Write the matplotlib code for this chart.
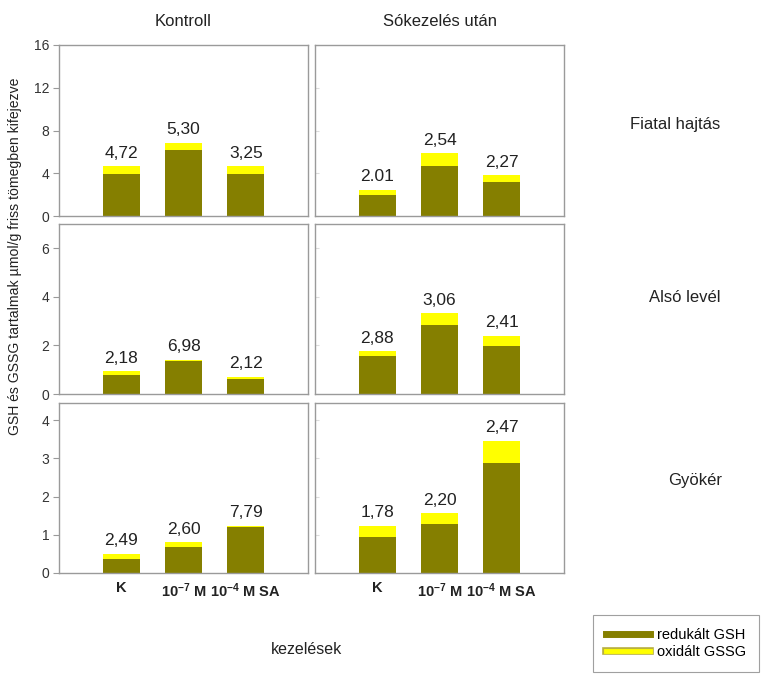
import matplotlib
matplotlib.use("Agg")
import matplotlib.pyplot as plt
import matplotlib.patheffects as pe
from matplotlib.lines import Line2D

plt.rcParams['font.family'] = ['Liberation Sans', 'DejaVu Sans']
plt.rcParams['mathtext.fontset'] = 'custom'
plt.rcParams['mathtext.rm'] = 'Liberation Sans:bold'
plt.rcParams['mathtext.default'] = 'rm'

treatments = ['K', '10$^{-7}$ M', '10$^{-4}$ M SA']
organs = ['Fiatal hajtás', 'Alsó levél', 'Gyökér']
conditions = ['Kontroll', 'Sókezelés után']

# reduced GSH and oxidised GSSG per organ row, one list per treatment
gsh_ctrl = [[3.90, 6.20, 3.96], [0.79, 1.35, 0.63], [0.375, 0.68, 1.20]]
gssg_ctrl = [[0.75, 0.66, 0.69], [0.14, 0.07, 0.09], [0.135, 0.13, 0.04]]
gsh_salt = [[1.98, 4.72, 3.14], [1.55, 2.83, 1.97], [0.94, 1.29, 2.89]]
gssg_salt = [[0.47, 1.13, 0.66], [0.21, 0.50, 0.42], [0.30, 0.27, 0.57]]

# GSH/GSSG ratios printed above the bars
ratio_ctrl = [['4,72', '5,30', '3,25'], ['2,18', '6,98', '2,12'], ['2,49', '2,60', '7,79']]
ratio_salt = [['2.01', '2,54', '2,27'], ['2,88', '3,06', '2,41'], ['1,78', '2,20', '2,47']]

ylims = [16, 7, 4.45]
yticks = [[0, 4, 8, 12, 16], [0, 2, 4, 6], [0, 1, 2, 3, 4]]

olive = '#857f00'
yellow = '#ffff00'
frame = '#9a9a9a'
txt = '#222222'

W, H = 765, 676
fig = plt.figure(figsize=(W / 100, H / 100), dpi=100)

col_x = [59, 315]
col_w = 249
row_y = [(45, 216), (224, 394), (403, 573)]

data = [(gsh_ctrl, gssg_ctrl, ratio_ctrl), (gsh_salt, gssg_salt, ratio_salt)]
x = [0, 1, 2]

for c in range(2):
    gsh, gssg, ratio = data[c]
    for r in range(3):
        top, bottom = row_y[r]
        ax = fig.add_axes([col_x[c] / W, 1 - bottom / H, col_w / W, (bottom - top) / H])
        ax.bar(x, gsh[r], width=0.6, color=olive, edgecolor='none')
        ax.bar(x, gssg[r], width=0.6, bottom=gsh[r], color=yellow, edgecolor='none')
        for i in x:
            total = gsh[r][i] + gssg[r][i]
            ax.annotate(ratio[r][i], (i, total), xytext=(0, 4), textcoords='offset points',
                        ha='center', va='bottom', fontsize=12.5, color=txt)
        ax.set_xlim(-1, 3)
        ax.set_ylim(0, ylims[r])
        ax.set_yticks(yticks[r])
        for s in ax.spines.values():
            s.set_color(frame)
            s.set_linewidth(1.0)
        if c == 0:
            ax.tick_params(axis='y', direction='out', length=4, color=frame,
                           labelsize=10, labelcolor='#333333', pad=3)
        else:
            ax.tick_params(axis='y', direction='in', length=3, color='#dddddd', labelleft=False)
        if r == 2:
            ax.set_xticks(x)
            ax.set_xticklabels(treatments, fontsize=10.5, fontweight='bold', color=txt)
            ax.tick_params(axis='x', length=0, pad=6)
        else:
            ax.set_xticks([])

# column and row headings
fig.text(183 / W, 1 - 22 / H, conditions[0], ha='center', va='center', fontsize=12, color=txt)
fig.text(440 / W, 1 - 22 / H, conditions[1], ha='center', va='center', fontsize=12, color=txt)
fig.text(675 / W, 1 - 125 / H, organs[0], ha='center', va='center', fontsize=12, color=txt)
fig.text(685 / W, 1 - 298 / H, organs[1], ha='center', va='center', fontsize=12, color=txt)
fig.text(695 / W, 1 - 480 / H, organs[2], ha='center', va='center', fontsize=12, color=txt)

fig.text(15 / W, 1 - 256 / H, 'GSH és GSSG tartalmak µmol/g friss tömegben kifejezve',
         rotation=90, ha='center', va='center', fontsize=10.1, color=txt)
fig.text(307 / W, 1 - 650 / H, 'kezelések', ha='center', va='center', fontsize=11.5, color=txt)

handles = [
    Line2D([], [], color=olive, lw=5),
    Line2D([], [], color=yellow, lw=3.5,
           path_effects=[pe.Stroke(linewidth=5.5, foreground='#b8b040'), pe.Normal()]),
]
leg = fig.legend(handles, ['redukált GSH', 'oxidált GSSG'], loc='upper left',
                 bbox_to_anchor=(593 / W, 1 - 615 / H), fontsize=10.5, frameon=True,
                 fancybox=False, edgecolor='#888888', handlelength=3.0,
                 handletextpad=0.5, labelspacing=0.2, borderpad=0.9, borderaxespad=0)
leg.get_frame().set_linewidth(0.8)

fig.savefig('out.png', dpi=100)
